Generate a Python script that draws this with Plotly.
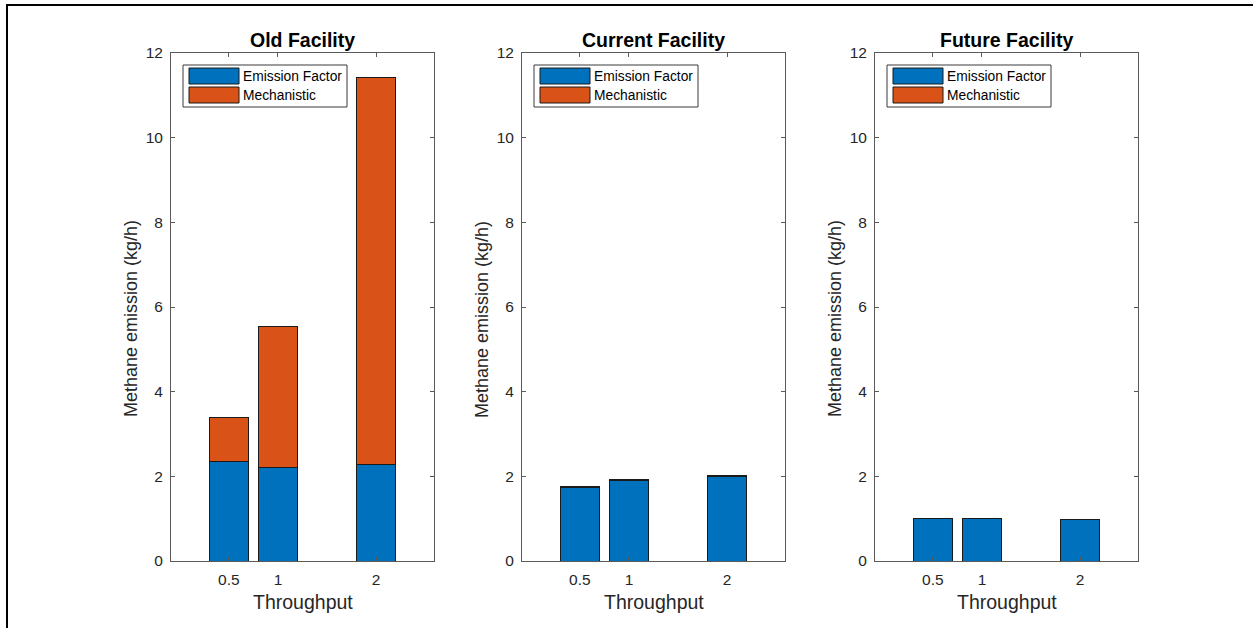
import plotly.graph_objects as go

# Throughput levels and methane emission (kg/h) for each facility
throughput = [0.5, 1, 2]
facilities = ["Old Facility", "Current Facility", "Future Facility"]

old_emission_factor = [2.36, 2.20, 2.29]
old_mechanistic = [1.02, 3.35, 9.12]

current_emission_factor = [1.74, 1.90, 1.99]
current_mechanistic = [0.02, 0.02, 0.02]

future_emission_factor = [1.01, 1.01, 0.97]
future_mechanistic = [0.0, 0.0, 0.0]

series_names = ["Emission Factor", "Mechanistic"]
series_colors = ["#0072BD", "#D95319"]
y_ticks = [0, 2, 4, 6, 8, 10, 12]

W, H = 1253, 628
panel_left = [171, 522, 875]
panel_width = 263
plot_top, plot_bottom = 53, 561

data = [
    (old_emission_factor, old_mechanistic),
    (current_emission_factor, current_mechanistic),
    (future_emission_factor, future_mechanistic),
]

fig = go.Figure()
axis_col = "#262626"
font_family = "Liberation Sans, Arial, sans-serif"

shapes = []
annotations = []


def px_x(v):
    return v / W


def px_y(v):
    return 1 - v / H


for i, (ef, mech) in enumerate(data):
    suffix = "" if i == 0 else str(i + 1)
    xa, ya = "x" + suffix, "y" + suffix
    for vals, name, color in zip((ef, mech), series_names, series_colors):
        fig.add_trace(go.Bar(
            x=throughput, y=vals, name=name, width=0.4,
            marker=dict(color=color, line=dict(color="#1a1a1a", width=1)),
            xaxis=xa, yaxis=ya, showlegend=False,
        ))

    common = dict(showgrid=False, zeroline=False, showline=True, linecolor="#5a5a5a",
                  linewidth=1, mirror="ticks", ticks="inside", ticklen=4,
                  tickcolor="#5a5a5a", automargin=False, ticklabelstandoff=4,
                  tickfont=dict(size=15.5, color=axis_col, family=font_family))
    fig.update_layout(**{
        "xaxis" + suffix: dict(domain=[px_x(panel_left[i]), px_x(panel_left[i] + panel_width)],
                               range=[-0.09, 2.59], tickvals=throughput,
                               ticktext=["0.5", "1", "2"], anchor=ya, **common),
        "yaxis" + suffix: dict(domain=[px_y(plot_bottom), px_y(plot_top)], range=[0, 12],
                               tickvals=y_ticks, anchor=xa, **common),
    })

    cx = px_x(panel_left[i] + panel_width / 2)
    annotations.append(dict(text="<b>" + facilities[i] + "</b>", x=cx, y=px_y(40),
                            xref="paper", yref="paper", xanchor="center", yanchor="middle",
                            showarrow=False,
                            font=dict(size=19.5, color="black", family=font_family)))
    annotations.append(dict(text="Throughput", x=cx, y=px_y(602),
                            xref="paper", yref="paper", xanchor="center", yanchor="middle",
                            showarrow=False,
                            font=dict(size=19.5, color=axis_col, family=font_family)))
    annotations.append(dict(text="Methane emission (kg/h)", x=px_x(panel_left[i] - 40),
                            y=px_y(319), xref="paper", yref="paper",
                            xanchor="center", yanchor="middle", showarrow=False,
                            textangle=-90,
                            font=dict(size=18, color=axis_col, family=font_family)))

    # legend box in the upper-left corner of each panel
    lx = panel_left[i] + 12
    shapes.append(dict(type="rect", xref="paper", yref="paper",
                       x0=px_x(lx), x1=px_x(lx + 164), y0=px_y(107), y1=px_y(65),
                       line=dict(color="#3a3a3a", width=1), fillcolor="white"))
    for k, (name, color) in enumerate(zip(series_names, series_colors)):
        top = 68 + k * 19
        shapes.append(dict(type="rect", xref="paper", yref="paper",
                           x0=px_x(lx + 6), x1=px_x(lx + 56),
                           y0=px_y(top + 16), y1=px_y(top),
                           line=dict(color="#1a1a1a", width=1), fillcolor=color))
        annotations.append(dict(text=name, x=px_x(lx + 58), y=px_y(top + 8.5),
                                xref="paper", yref="paper", xanchor="left",
                                yanchor="middle", showarrow=False,
                                font=dict(size=13.8, color="black", family=font_family)))

# outer frame of the figure
shapes.append(dict(type="rect", xref="paper", yref="paper",
                   x0=px_x(7), x1=1.02, y0=-0.02, y1=px_y(5),
                   line=dict(color="black", width=2)))

fig.update_layout(
    width=W, height=H, barmode="stack",
    margin=dict(l=0, r=0, t=0, b=0, autoexpand=False),
    paper_bgcolor="white", plot_bgcolor="white",
    shapes=shapes, annotations=annotations, showlegend=False,
    font=dict(family=font_family),
)

fig.write_html("out.html")
